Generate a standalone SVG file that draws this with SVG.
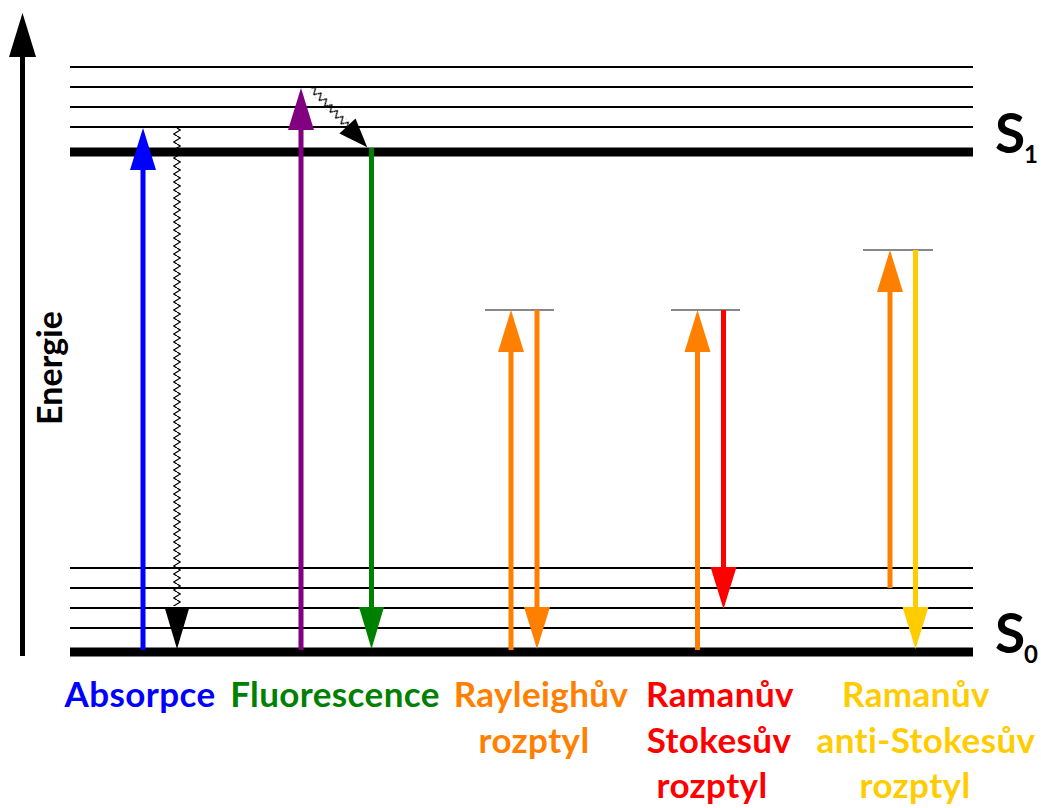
<svg xmlns="http://www.w3.org/2000/svg" width="1041" height="808" viewBox="0 0 1041 808">
<style>
.lvl{stroke:#000;stroke-width:2;fill:none}
.thick{stroke:#000;stroke-width:9;fill:none}
.virt{stroke:#888;stroke-width:2;fill:none}
.ar{stroke-width:5;fill:none}
.lab{font-family:Lato,"Open Sans",sans-serif;font-weight:700;font-size:35px;letter-spacing:0.4px;text-anchor:middle}
.sl{font-family:Lato,"Open Sans",sans-serif;font-weight:700}
</style>
<defs>
<pattern id="zig" patternUnits="userSpaceOnUse" x="-4" y="0" width="8" height="8">
<polyline points="4,0 7.3,2 0.7,6 4,8" fill="none" stroke="#000" stroke-width="1.3"/>
</pattern>
</defs>
<rect width="1041" height="808" fill="#fff"/>
<g id="axis">
<line x1="22.5" y1="656" x2="22.5" y2="50" stroke="#000" stroke-width="5"/>
<polygon points="22.5,13 36,57 9,57" fill="#000"/>
<text class="sl" font-size="34" text-anchor="middle" transform="translate(62,368) rotate(-90)">Energie</text>
</g>
<g id="levels-S1">
<line class="lvl" x1="70" y1="67" x2="973" y2="67"/>
<line class="lvl" x1="70" y1="87" x2="973" y2="87"/>
<line class="lvl" x1="70" y1="107" x2="973" y2="107"/>
<line class="lvl" x1="70" y1="127" x2="973" y2="127"/>
<line class="thick" x1="70" y1="152" x2="973" y2="152"/>
<text class="sl" font-size="55" x="995" y="153">S</text>
<text class="sl" font-size="24" x="1024" y="163">1</text>
</g>
<g id="levels-S0">
<line class="lvl" x1="70" y1="568" x2="973" y2="568"/>
<line class="lvl" x1="70" y1="588" x2="973" y2="588"/>
<line class="lvl" x1="70" y1="608" x2="973" y2="608"/>
<line class="lvl" x1="70" y1="628" x2="973" y2="628"/>
<line class="thick" x1="70" y1="652" x2="973" y2="652"/>
<text class="sl" font-size="55" x="995" y="653">S</text>
<text class="sl" font-size="24" x="1024" y="663">0</text>
</g>
<g id="virtual-levels">
<line class="virt" x1="485" y1="310" x2="554" y2="310"/>
<line class="virt" x1="671" y1="310" x2="740" y2="310"/>
<line class="virt" x1="863" y1="250" x2="933" y2="250"/>
</g>
<g id="connectors">
<line class="ar" stroke="#0000ff" x1="143" y1="650" x2="143" y2="165"/>
<polygon points="143,128 156,170 130,170" fill="#0000ff"/>
<g transform="translate(177,128)">
<rect x="-4" y="0" width="8" height="478" fill="url(#zig)"/>
</g>
<polygon points="177,649 189.5,607 164.5,607" fill="#000"/>
<line class="ar" stroke="#800080" x1="301" y1="650" x2="301" y2="125"/>
<polygon points="301,88 314,130 288,130" fill="#800080"/>
<g transform="translate(312,88) rotate(-43)">
<rect x="-4" y="0" width="8" height="52" fill="url(#zig)"/>
<polygon points="0,81 -11,52 11,52" fill="#000"/>
</g>
<line class="ar" stroke="#008000" x1="371.5" y1="148" x2="371.5" y2="612"/>
<polygon points="371.5,649 384,607 359,607" fill="#008000"/>
<line class="ar" stroke="#ff8000" x1="511" y1="650" x2="511" y2="345"/>
<polygon points="511,310 524,352 498,352" fill="#ff8000"/>
<line class="ar" stroke="#ff8000" x1="537" y1="310" x2="537" y2="612"/>
<polygon points="537,649 550,607 524,607" fill="#ff8000"/>
<line class="ar" stroke="#ff8000" x1="697.5" y1="650" x2="697.5" y2="345"/>
<polygon points="697.5,310 710.5,352 684.5,352" fill="#ff8000"/>
<line class="ar" stroke="#ff0000" x1="723.5" y1="310" x2="723.5" y2="572"/>
<polygon points="723.5,609 736.5,567 710.5,567" fill="#ff0000"/>
<line class="ar" stroke="#ff8000" x1="890" y1="588" x2="890" y2="285"/>
<polygon points="890,250 903,292 877,292" fill="#ff8000"/>
<line class="ar" stroke="#ffcc00" x1="915.5" y1="250" x2="915.5" y2="612"/>
<polygon points="915.5,649 928.5,607 902.5,607" fill="#ffcc00"/>
</g>
<g id="labels">
<text class="lab" fill="#0000ff" x="140" y="707">Absorpce</text>
<text class="lab" fill="#008000" x="335" y="707">Fluorescence</text>
<text class="lab" fill="#ff8000" x="541" y="707">Rayleighův</text>
<text class="lab" fill="#ff8000" x="534" y="753">rozptyl</text>
<text class="lab" fill="#ff0000" x="720" y="707">Ramanův</text>
<text class="lab" fill="#ff0000" x="719" y="753">Stokesův</text>
<text class="lab" fill="#ff0000" x="712" y="798">rozptyl</text>
<text class="lab" fill="#ffcc00" x="916" y="707">Ramanův</text>
<text class="lab" fill="#ffcc00" x="926" y="753">anti-Stokesův</text>
<text class="lab" fill="#ffcc00" x="915" y="798">rozptyl</text>
</g>
</svg>
